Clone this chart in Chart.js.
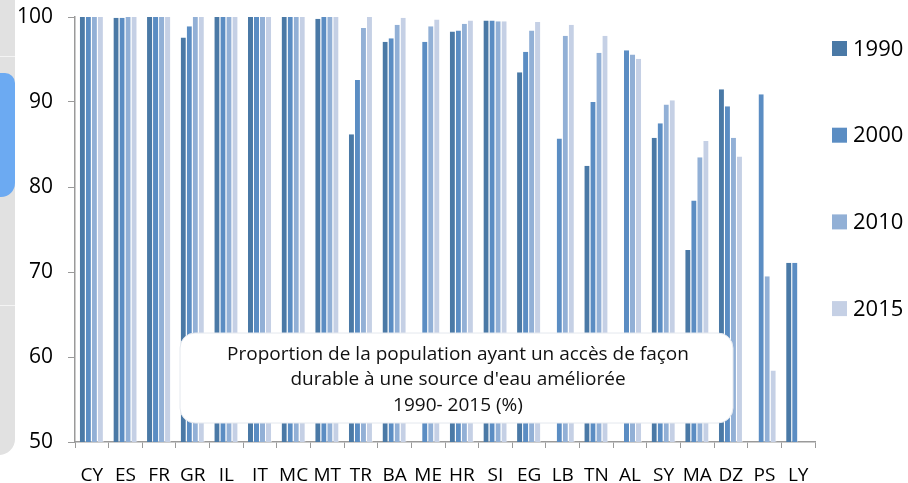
<!DOCTYPE html>
<html lang="fr">
<head>
<meta charset="utf-8">
<title>Accès à une source d'eau améliorée</title>
<script src="https://cdn.jsdelivr.net/npm/chart.js@4/dist/chart.umd.min.js"></script>
<style>
  html, body { margin: 0; padding: 0; background: #ffffff; }
  #wrap { position: relative; width: 908px; height: 483px; overflow: hidden; }
  /* decorative panel on the left edge */
  #panel { position: absolute; left: -20px; top: -20px; width: 35px; height: 475px;
           background: #e1e1e1; border-bottom-right-radius: 16px; }
  #panel .blue { position: absolute; left: 0; top: 93px; width: 35px; height: 124px;
           background: #6caaf2; border-top-right-radius: 10px; border-bottom-right-radius: 14px; }
  #panel .line { position: absolute; left: 0; width: 35px; height: 1px; background: #f4f4f4; }
  canvas { position: absolute; left: 0; top: 0; }
</style>
</head>
<body>
<div id="wrap">
  <div id="panel">
    <div class="line" style="top:76px"></div>
    <div class="blue"></div>
    <div class="line" style="top:325px"></div>
  </div>
  <canvas id="chart" width="908" height="483"></canvas>
</div>
<script>
// Pays (codes) et proportions (%) par année
const categories = ['CY','ES','FR','GR','IL','IT','MC','MT','TR','BA','ME','HR','SI','EG','LB','TN','AL','SY','MA','DZ','PS','LY'];
const years = ['1990', '2000', '2010', '2015'];
const v1990 = [100, 99.9, 100, 97.6, 100, 100, 100, 99.8, 86.2, 97.1, null, 98.3, 99.6, 93.5, null, 82.5, null, 85.8, 72.6, 91.5, null, 71.1];
const v2000 = [100, 99.9, 100, 98.9, 100, 100, 100, 100, 92.6, 97.5, 97.1, 98.4, 99.6, 95.9, 85.7, 90.0, 96.1, 87.5, 78.4, 89.5, 90.9, 71.1];
const v2010 = [100, 100, 100, 100, 100, 100, 100, 100, 98.7, 99.1, 98.9, 99.2, 99.5, 98.4, 97.8, 95.8, 95.6, 89.7, 83.5, 85.8, 69.5, null];
const v2015 = [100, 100, 100, 100, 100, 100, 100, 100, 100, 99.9, 99.7, 99.6, 99.5, 99.4, 99.1, 97.8, 95.1, 90.2, 85.4, 83.6, 58.4, null];
const yTicks = [50, 60, 70, 80, 90, 100];
const titleLines = [
  "Proportion de la population ayant un accès de façon",
  "durable à une source d'eau améliorée",
  "1990- 2015 (%)"
];

const colors = ['#4a79a6', '#5b8dc3', '#92b0d6', '#c5d0e5'];
const series = [v1990, v2000, v2010, v2015];
const FONT = '"Open Sans", Lato, sans-serif';

// Boîte de titre arrondie posée sur les barres
const titleBox = {
  id: 'titleBox',
  afterDatasetsDraw(chart) {
    const ctx = chart.ctx;
    const x = 180, y = 333, w = 553, h = 90, r = 15;
    ctx.save();
    ctx.beginPath();
    ctx.roundRect(x, y, w, h, r);
    ctx.fillStyle = '#ffffff';
    ctx.fill();
    ctx.strokeStyle = '#e4e8ee';
    ctx.lineWidth = 1;
    ctx.stroke();
    ctx.fillStyle = '#111111';
    ctx.font = '19px ' + FONT;
    ctx.textAlign = 'center';
    ctx.textBaseline = 'middle';
    const cx = 458;
    [355, 380, 406].forEach((ly, i) => ctx.fillText(titleLines[i], cx, ly));
    ctx.restore();
  }
};

// Légende verticale à droite
const sideLegend = {
  id: 'sideLegend',
  afterDraw(chart) {
    const ctx = chart.ctx;
    ctx.save();
    ctx.font = '22px ' + FONT;
    ctx.textAlign = 'left';
    ctx.textBaseline = 'middle';
    chart.data.datasets.forEach((ds, i) => {
      const cy = 48.5 + i * 86.7;
      ctx.fillStyle = ds.backgroundColor;
      ctx.fillRect(832, cy - 7.5, 15, 15);
      ctx.fillStyle = '#000000';
      ctx.fillText(ds.label, 853, cy + 1);
    });
    ctx.restore();
  }
};

new Chart(document.getElementById('chart'), {
  type: 'bar',
  data: {
    labels: categories,
    datasets: series.map((vals, i) => ({
      label: years[i],
      data: vals,
      backgroundColor: colors[i],
      borderColor: 'rgba(255,255,255,0.45)',
      borderWidth: { top: 0, right: 1, bottom: 0, left: 0 },
      borderSkipped: false,
      categoryPercentage: 0.715,
      barPercentage: 1.0
    }))
  },
  options: {
    responsive: false,
    animation: false,
    devicePixelRatio: 1,
    layout: { padding: { top: 17, right: 93, bottom: 0, left: 0 } },
    plugins: {
      legend: { display: false },
      tooltip: { enabled: false },
      title: { display: false }
    },
    scales: {
      x: {
        offset: true,
        grid: { offset: true, drawOnChartArea: false, tickLength: 6, color: '#9a9a9a' },
        border: { color: '#9a9a9a', width: 1.5 },
        ticks: { font: { family: FONT, size: 19 }, color: '#000000', padding: 16, maxRotation: 0, autoSkip: false },
        afterFit(scale) { scale.height = 41; }
      },
      y: {
        min: 50,
        max: 100,
        afterBuildTicks(scale) { scale.ticks = yTicks.map(v => ({ value: v })); },
        grid: { drawOnChartArea: false, tickLength: 7, color: '#9a9a9a' },
        border: { color: '#9a9a9a', width: 1.5 },
        ticks: { font: { family: FONT, size: 21 }, color: '#000000', padding: 15 },
        afterFit(scale) {
          scale.width = 75;
          // the top label fits inside the layout padding
          scale.paddingTop = 0;
          scale.paddingBottom = 0;
        }
      }
    }
  },
  plugins: [titleBox, sideLegend]
});
</script>
</body>
</html>
